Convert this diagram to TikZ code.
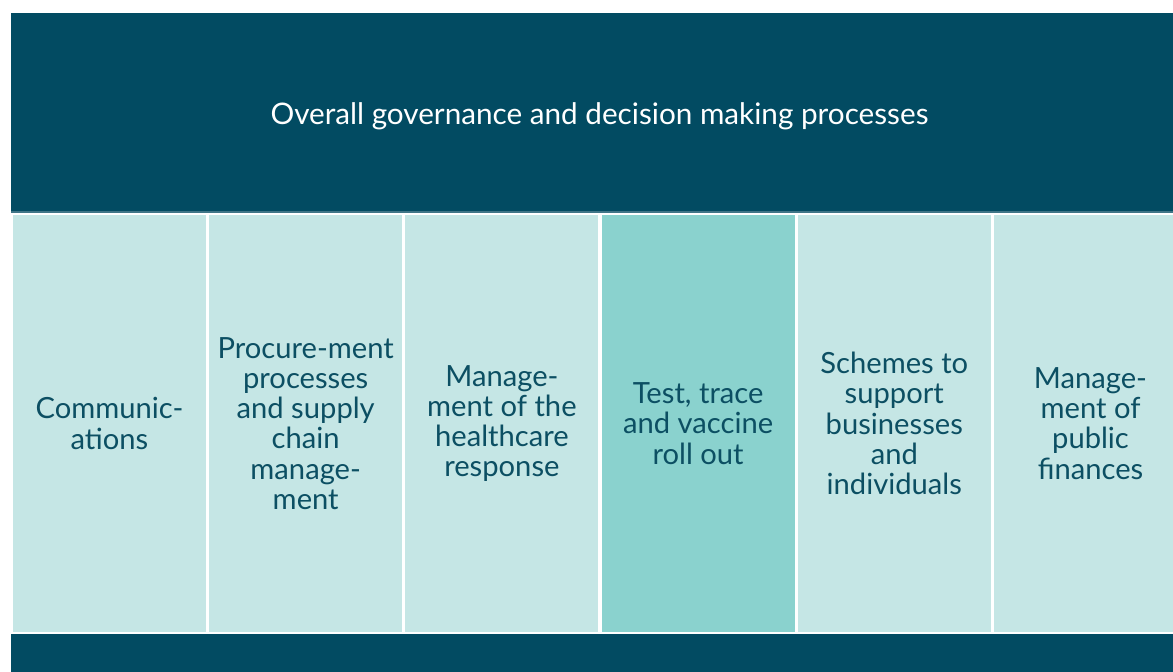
\documentclass[tikz,border=0pt]{standalone}
\usepackage{fontspec}
\setmainfont{Lato}
\definecolor{govblue}{HTML}{024B62}
\definecolor{edgeblue}{HTML}{3F7587}
\definecolor{arealight}{HTML}{C5E6E5}
\definecolor{areadark}{HTML}{8AD2CE}
\definecolor{textblue}{HTML}{0C4F63}

\begin{document}
\begin{tikzpicture}[x=0.02cm, y=-0.02cm]
    % styles
    \tikzset{
        band/.style={rectangle, fill=govblue, draw=none, minimum width=23.54cm, inner sep=0pt},
        area/.style={rectangle, fill=arealight, draw=none, minimum width=3.86cm, minimum height=8.34cm,
            inner sep=0pt, text=textblue, align=center, font=\fontsize{16.6}{17.2}\selectfont},
        areahi/.style={area, fill=areadark},
    }

    % frame of the picture
    \clip (0,0) rectangle (1173,672);

    % top band
    \node[band, minimum height=3.98cm] (gov) at (599.5,112.5) {};
    \draw[edgeblue, line width=0.04cm] (gov.south west) -- (gov.south east);
    \node[text=white, font=\fontsize{16.9}{18}\selectfont] (title) at (599.5,116)
        {Overall governance and decision making processes};

    % the six areas
    \foreach \i/\sty/\txt in {0/area/{Communic-\\ations},
                              1/area/{Procure-ment\\processes\\and supply\\chain\\manage-\\ment},
                              2/area/{Manage-\\ment of the\\healthcare\\response},
                              3/areahi/{Test, trace\\and vaccine\\roll out},
                              4/area/{Schemes to\\support\\businesses\\and\\individuals},
                              5/area/{Manage-\\ment of\\public\\finances}} {
        \node[\sty] (a\i) at ({109.5+196.2*\i},423.5) {\txt};
    }

    % bottom band
    \node[band, minimum height=1.3cm] (base) at (599.5,666.5) {};
\end{tikzpicture}
\end{document}
